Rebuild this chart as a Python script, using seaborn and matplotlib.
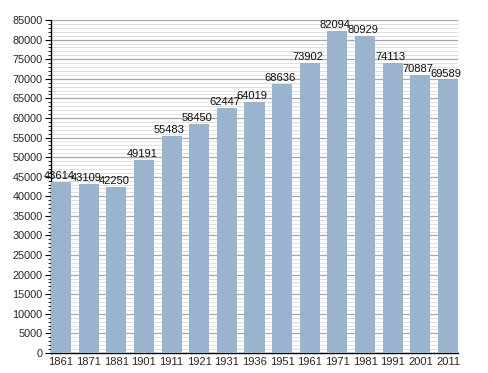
import seaborn as sns
import matplotlib.pyplot as plt
import pandas as pd
from matplotlib.ticker import MultipleLocator

anos = ["1861", "1871", "1881", "1901", "1911", "1921", "1931", "1936",
        "1951", "1961", "1971", "1981", "1991", "2001", "2011"]
poblacion = [43614, 43109, 42250, 49191, 55483, 58450, 62447, 64019,
             68636, 73902, 82094, 80929, 74113, 70887, 69589]

df = pd.DataFrame({"ano": anos, "pob": poblacion})

sns.set_style("white")
plt.rcParams['font.family'] = ['Liberation Sans', 'DejaVu Sans']

ANCHO = 0.725
fig = plt.figure(figsize=(4.88, 3.73), dpi=100)
ax = fig.add_axes([51 / 488, 20 / 373, 407 / 488, 333 / 373])

sns.barplot(data=df, x="ano", y="pob", color="#9AB3CE", saturation=1,
            width=ANCHO, linewidth=0, ax=ax, zorder=3)

for i, v in enumerate(poblacion):
    ax.text(i - 0.08, v + 250, str(v), ha="center", va="bottom",
            fontsize=8, color="#111111")

ax.set_ylim(0, 85000)
ax.set_xlim(-ANCHO / 2, len(anos) - 1 + ANCHO / 2)
ax.yaxis.set_major_locator(MultipleLocator(5000))
ax.yaxis.set_minor_locator(MultipleLocator(1000))
ax.grid(axis="y", which="major", color="#a8a8a8", lw=0.9, zorder=0)
ax.grid(axis="y", which="minor", color="#e0e0e0", lw=0.7, zorder=0)
ax.set_axisbelow(True)

ax.set_xlabel("")
ax.set_ylabel("")
ax.tick_params(axis="y", which="major", length=4, width=0.8, color="black",
               labelsize=7.8, left=True, pad=2)
ax.tick_params(axis="y", which="minor", length=2, width=0.6, color="black", left=True)
ax.tick_params(axis="x", length=0, labelsize=8, pad=3)

for s in ["top", "right"]:
    ax.spines[s].set_visible(False)
ax.spines["left"].set_color("black")
ax.spines["bottom"].set_color("black")
ax.spines["left"].set_linewidth(1)
ax.spines["bottom"].set_linewidth(1)

fig.savefig("out.png", dpi=100, facecolor="white")
